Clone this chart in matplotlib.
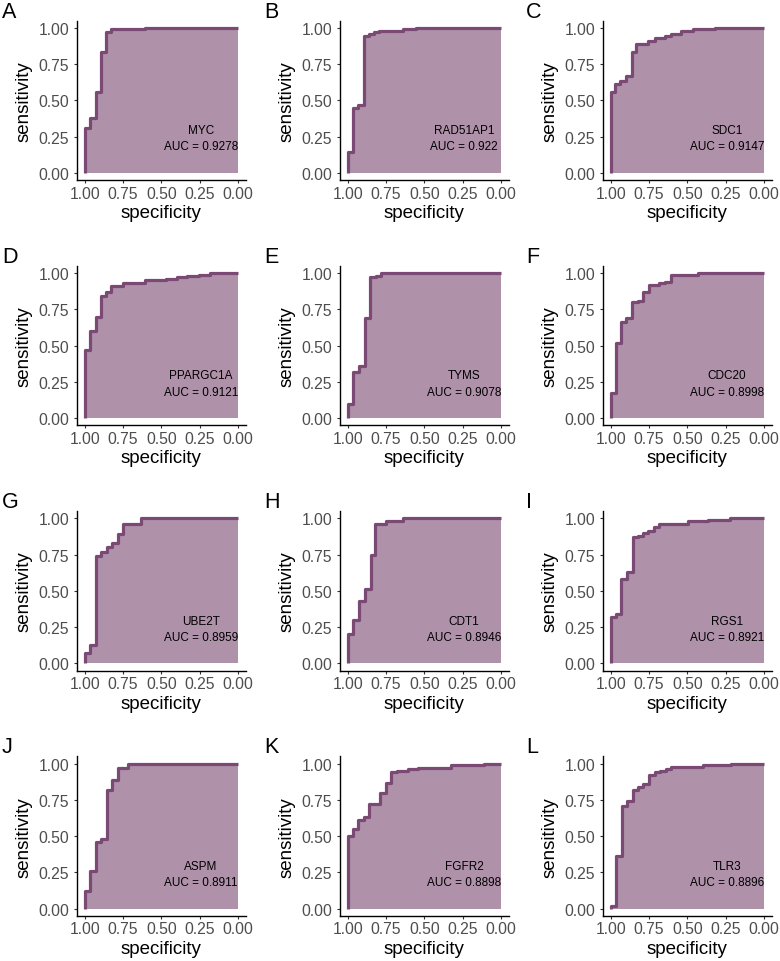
import matplotlib

matplotlib.use("Agg")

import matplotlib.pyplot as plt

plt.rcParams["font.family"] = ["Liberation Sans", "DejaVu Sans"]

PANEL_LETTERS = ["A", "B", "C", "D", "E", "F", "G", "H", "I", "J", "K", "L"]
GENES = ["MYC", "RAD51AP1", "SDC1", "PPARGC1A", "TYMS", "CDC20",
         "UBE2T", "CDT1", "RGS1", "ASPM", "FGFR2", "TLR3"]
AUCS = ["0.9278", "0.922", "0.9147", "0.9121", "0.9078", "0.8998",
        "0.8959", "0.8946", "0.8921", "0.8911", "0.8898", "0.8896"]

# specificity where each step happens, and sensitivity reached at that step
SPEC = [
    [1.0, 0.967, 0.928, 0.896, 0.859, 0.826, 0.604],
    [1.0, 0.967, 0.93, 0.896, 0.859, 0.826, 0.793, 0.641, 0.554],
    [1.0, 0.972, 0.94, 0.90, 0.864, 0.832, 0.756, 0.713, 0.644, 0.609, 0.54, 0.464, 0.32],
    [1.0, 0.968, 0.929, 0.896, 0.86, 0.827, 0.752, 0.607, 0.471, 0.395, 0.33, 0.255, 0.18],
    [1.0, 0.963, 0.927, 0.89, 0.856, 0.817, 0.78],
    [1.0, 0.963, 0.931, 0.897, 0.86, 0.824, 0.789, 0.753, 0.682, 0.645, 0.609, 0.43],
    [1.0, 0.963, 0.929, 0.892, 0.856, 0.82, 0.785, 0.748, 0.634],
    [1.0, 0.964, 0.926, 0.89, 0.851, 0.819, 0.747, 0.638],
    [1.0, 0.966, 0.93, 0.894, 0.856, 0.824, 0.788, 0.754, 0.718, 0.682, 0.495, 0.367, 0.219],
    [1.0, 0.963, 0.929, 0.892, 0.856, 0.82, 0.785, 0.714],
    [1.0, 0.964, 0.932, 0.893, 0.861, 0.786, 0.75, 0.716, 0.68, 0.605, 0.54, 0.323, 0.109],
    [1.0, 0.964, 0.927, 0.893, 0.857, 0.824, 0.786, 0.75, 0.713, 0.679, 0.642, 0.606, 0.396, 0.214],
]
SENS = [
    [0.31, 0.38, 0.56, 0.83, 0.97, 0.99, 1.0],
    [0.14, 0.45, 0.47, 0.94, 0.96, 0.97, 0.98, 0.99, 1.0],
    [0.56, 0.61, 0.63, 0.67, 0.83, 0.89, 0.91, 0.93, 0.94, 0.96, 0.98, 0.99, 1.0],
    [0.47, 0.60, 0.70, 0.84, 0.87, 0.91, 0.93, 0.95, 0.96, 0.97, 0.98, 0.99, 1.0],
    [0.10, 0.32, 0.36, 0.69, 0.97, 0.98, 1.0],
    [0.17, 0.52, 0.66, 0.69, 0.80, 0.81, 0.87, 0.92, 0.93, 0.94, 0.99, 1.0],
    [0.07, 0.13, 0.74, 0.77, 0.80, 0.83, 0.89, 0.96, 1.0],
    [0.20, 0.30, 0.43, 0.51, 0.75, 0.96, 0.98, 1.0],
    [0.32, 0.34, 0.58, 0.63, 0.87, 0.88, 0.90, 0.915, 0.94, 0.96, 0.98, 0.99, 1.0],
    [0.12, 0.26, 0.46, 0.48, 0.82, 0.89, 0.97, 1.0],
    [0.50, 0.55, 0.61, 0.63, 0.72, 0.80, 0.87, 0.94, 0.95, 0.96, 0.97, 0.99, 1.0],
    [0.02, 0.36, 0.71, 0.74, 0.82, 0.84, 0.86, 0.92, 0.94, 0.95, 0.96, 0.98, 0.99, 1.0],
]

LINE_COLOR = "#7A4A74"
FILL_COLOR = "#AF92AA"
TICKS = [1.0, 0.75, 0.5, 0.25, 0.0]
TICK_LABELS = ["1.00", "0.75", "0.50", "0.25", "0.00"]


def step_path(spec, sens):
    xs, ys = [spec[0]], [0.0]
    for i, (s, y) in enumerate(zip(spec, sens)):
        xs.append(s)
        ys.append(y)
        nxt = spec[i + 1] if i + 1 < len(spec) else 0.0
        xs.append(nxt)
        ys.append(y)
    return xs, ys


W, H = 780, 962
fig = plt.figure(figsize=(W / 100, H / 100), dpi=100)

for i, gene in enumerate(GENES):
    r, c = divmod(i, 3)
    left = 77 + 263 * c
    top = 21.5 + 245.3 * r
    ax = fig.add_axes([left / W, 1 - (top + 159.5) / H, 168.6 / W, 159.5 / H])

    xs, ys = step_path(SPEC[i], SENS[i])
    ax.fill_between(xs, ys, 0, color=FILL_COLOR, linewidth=0)
    ax.plot(xs, ys, color=LINE_COLOR, linewidth=2.3, solid_capstyle="butt")

    ax.set_xlim(1.05, -0.05)
    ax.set_ylim(-0.05, 1.05)
    ax.set_xticks(TICKS)
    ax.set_xticklabels(TICK_LABELS)
    ax.set_yticks(TICKS)
    ax.set_yticklabels(TICK_LABELS)
    ax.tick_params(labelsize=11.3, labelcolor="#4D4D4D", color="#333333",
                   length=2.5, width=0.8)
    ax.tick_params(axis="x", pad=1.5)
    ax.tick_params(axis="y", pad=3)
    for side in ["top", "right"]:
        ax.spines[side].set_visible(False)
    for side in ["left", "bottom"]:
        ax.spines[side].set_linewidth(1.0)
    ax.set_xlabel("specificity", fontsize=13.5, labelpad=2.5)
    ax.set_ylabel("sensitivity", fontsize=13.5, labelpad=4)

    ax.text(0.24, 0.295, gene, ha="center", va="center", fontsize=8.5)
    ax.text(0.24, 0.183, f"AUC = {AUCS[i]}", ha="center", va="center", fontsize=8.5)

    fig.text((2 + 262 * c) / W, 1 - (12 + 245.3 * r) / H, PANEL_LETTERS[i],
             ha="left", va="center", fontsize=15.5)

fig.savefig("out.png", dpi=100)
